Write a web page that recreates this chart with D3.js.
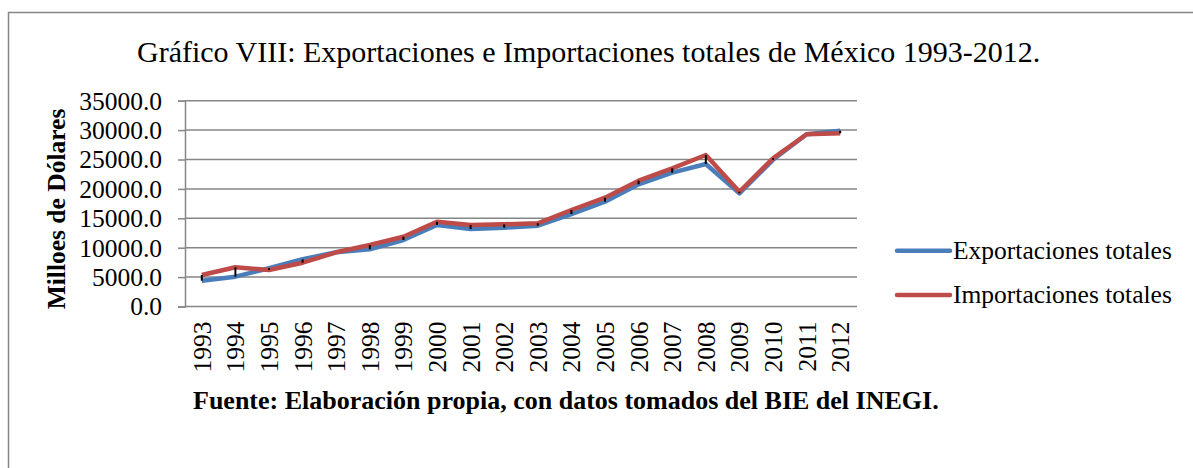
<!DOCTYPE html>
<html>
<head>
<meta charset="utf-8">
<script src="https://cdn.jsdelivr.net/npm/d3@7"></script>
<style>
  body { margin: 0; background: #fff; }
  text { font-family: "Liberation Serif", "Times New Roman", serif; fill: #000; }
</style>
</head>
<body>
<div id="chart"></div>
<script>
// Data (millones de dólares)
var years = ["1993", "1994", "1995", "1996", "1997", "1998", "1999", "2000", "2001", "2002",
             "2003", "2004", "2005", "2006", "2007", "2008", "2009", "2010", "2011", "2012"];
var exportaciones = [4390, 5070, 6500, 8030, 9220, 9730, 11310, 13860, 13180, 13400,
                     13750, 15730, 17820, 20780, 22760, 24230, 19250, 24950, 29290, 29900];
var importaciones = [5360, 6670, 6200, 7450, 9220, 10460, 11870, 14420, 13860, 13980,
                     14150, 16410, 18500, 21400, 23500, 25770, 19520, 25200, 29290, 29450];
var yTicks = [0, 5000, 10000, 15000, 20000, 25000, 30000, 35000];

var series = [
  { name: "Exportaciones totales", values: exportaciones, color: "#4A7EBB" },
  { name: "Importaciones totales", values: importaciones, color: "#BE4B48" }
];

var width = 1193, height = 468;
var plot = { left: 185, right: 857, top: 100.7, bottom: 306.5 };
var gridColor = "#868686";
var fontSize = "25.5px";

var svg = d3.select("#chart").append("svg")
  .attr("width", width)
  .attr("height", height);

// Outer frame (right and bottom edges fall outside the picture)
svg.append("rect")
  .attr("x", 8.5).attr("y", 12.5)
  .attr("width", 1200).attr("height", 480)
  .attr("fill", "none")
  .attr("stroke", gridColor)
  .attr("stroke-width", 1.5);

var x = d3.scaleBand().domain(years).range([plot.left, plot.right]);
var y = d3.scaleLinear().domain([0, 35000]).range([plot.bottom, plot.top]);
var cx = function(d) { return x(d) + x.bandwidth() / 2; };

// Title
svg.append("text")
  .attr("x", 137)
  .attr("y", 62)
  .style("font-size", "30px")
  .text("Gráfico VIII: Exportaciones e Importaciones totales de México 1993-2012.");

// Gridlines
svg.append("g")
  .selectAll("line")
  .data(yTicks)
  .enter().append("line")
  .attr("x1", plot.left).attr("x2", plot.right)
  .attr("y1", function(d) { return y(d); })
  .attr("y2", function(d) { return y(d); })
  .attr("stroke", gridColor)
  .attr("stroke-width", 1.5);

// Y axis
var yAxis = svg.append("g")
  .attr("transform", "translate(" + plot.left + ",0)")
  .call(d3.axisLeft(y).tickValues(yTicks).tickFormat(d3.format(".1f")).tickSize(7).tickPadding(16));
yAxis.selectAll("line, path").attr("stroke", gridColor).attr("stroke-width", 1.5);
yAxis.selectAll("text")
  .attr("dy", "0.33em")
  .style("font-size", fontSize)
  .style("font-family", "Liberation Serif");

// X axis (rotated year labels)
var xAxis = svg.append("g")
  .attr("transform", "translate(0," + plot.bottom + ")")
  .call(d3.axisBottom(x).tickSize(0));
xAxis.select("path").remove();
xAxis.selectAll("text")
  .attr("transform", "rotate(-90)")
  .attr("x", -15)
  .attr("y", 0)
  .attr("dy", "0.35em")
  .style("text-anchor", "end")
  .style("font-size", fontSize)
  .style("font-family", "Liberation Serif");

// Y axis title
svg.append("text")
  .attr("transform", "translate(65,209) rotate(-90)")
  .attr("text-anchor", "middle")
  .style("font-size", fontSize)
  .style("font-weight", "bold")
  .text("Milloes de Dólares");

// Lines
var line = d3.line()
  .x(function(d, i) { return cx(years[i]); })
  .y(function(d) { return y(d); });

svg.append("g")
  .selectAll("path")
  .data(series)
  .enter().append("path")
  .attr("d", function(s) { return line(s.values); })
  .attr("fill", "none")
  .attr("stroke", function(s) { return s.color; })
  .attr("stroke-width", 4.5)
  .attr("stroke-linejoin", "round");

// High-low lines between the two series
svg.append("g")
  .selectAll("line")
  .data(years)
  .enter().append("line")
  .attr("x1", cx).attr("x2", cx)
  .attr("y1", function(d, i) { return y(Math.max(exportaciones[i], importaciones[i])); })
  .attr("y2", function(d, i) { return y(Math.min(exportaciones[i], importaciones[i])); })
  .attr("stroke", "#000")
  .attr("stroke-width", 2);

// Legend
var legend = svg.append("g")
  .selectAll("g")
  .data(series)
  .enter().append("g")
  .attr("transform", function(d, i) { return "translate(897," + (250.7 + i * 44.3) + ")"; });

legend.append("line")
  .attr("x1", 0).attr("x2", 53)
  .attr("stroke", function(d) { return d.color; })
  .attr("stroke-width", 4.5)
  .attr("stroke-linecap", "round");

legend.append("text")
  .attr("x", 56)
  .attr("dy", "0.33em")
  .style("font-size", fontSize)
  .text(function(d) { return d.name; });

// Source note
svg.append("text")
  .attr("x", 193)
  .attr("y", 409)
  .style("font-size", "26px")
  .style("font-weight", "bold")
  .text("Fuente: Elaboración propia, con datos tomados del BIE del INEGI.");
</script>
</body>
</html>
